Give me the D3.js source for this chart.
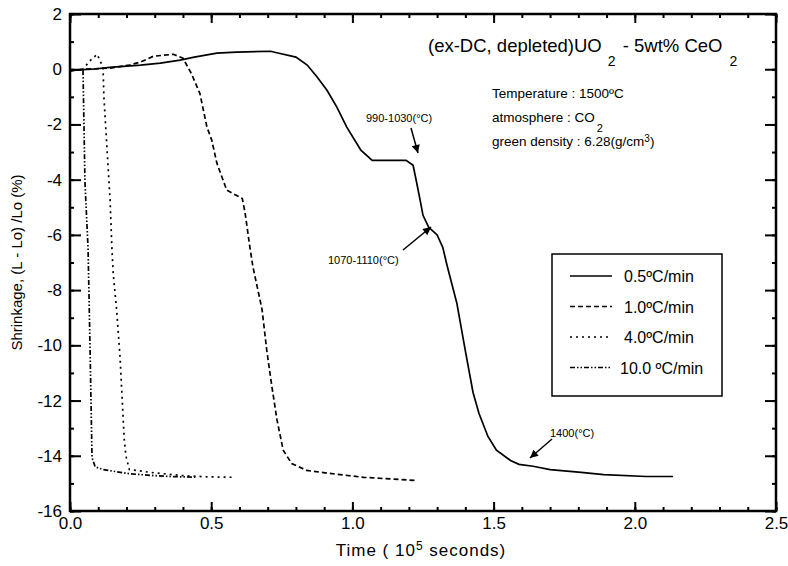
<!DOCTYPE html>
<html>
<head>
<meta charset="utf-8">
<script src="https://cdn.jsdelivr.net/npm/d3@7"></script>
<style>
    body { margin: 0; background: #fff; }
    text { font-family: "Liberation Sans", Arial, sans-serif; fill: #000; }
</style>
</head>
<body>
<div id="chart"></div>
<script>
// Time in 1e5 seconds, shrinkage in %
const rate05T = [0, 0.04, 0.08, 0.14, 0.25, 0.32, 0.39, 0.44, 0.52, 0.59, 0.71, 0.74, 0.80, 0.84, 0.875, 0.91, 0.945, 0.98, 1.015, 1.03, 1.07, 1.19, 1.215, 1.228, 1.24, 1.25, 1.27, 1.30, 1.32, 1.335, 1.37, 1.40, 1.427, 1.448, 1.48, 1.51, 1.56, 1.59, 1.64, 1.70, 1.81, 1.89, 2.04, 2.135];
const rate05V = [-0.05, -0.02, 0.0, 0.07, 0.15, 0.22, 0.33, 0.44, 0.58, 0.62, 0.65, 0.58, 0.44, 0.15, -0.28, -0.76, -1.37, -2.1, -2.68, -2.93, -3.3, -3.3, -3.48, -4.13, -4.75, -5.29, -5.72, -6.0, -6.45, -7.1, -8.48, -10.2, -11.7, -12.46, -13.3, -13.8, -14.17, -14.31, -14.38, -14.5, -14.6, -14.68, -14.75, -14.75];

const rate10T = [0, 0.05, 0.14, 0.21, 0.25, 0.295, 0.366, 0.40, 0.43, 0.46, 0.485, 0.502, 0.52, 0.555, 0.61, 0.62, 0.637, 0.648, 0.655, 0.68, 0.697, 0.715, 0.733, 0.755, 0.785, 0.838, 0.92, 1.04, 1.23];
const rate10V = [-0.05, 0.0, 0.04, 0.15, 0.26, 0.47, 0.54, 0.4, -0.16, -0.88, -2.1, -2.57, -3.4, -4.38, -4.68, -5.2, -6.45, -7.17, -7.5, -8.7, -10.2, -11.5, -12.7, -13.8, -14.28, -14.53, -14.64, -14.78, -14.9];

const rate40T = [0, 0.046, 0.07, 0.096, 0.117, 0.12, 0.13, 0.142, 0.148, 0.153, 0.165, 0.177, 0.185, 0.192, 0.198, 0.21, 0.30, 0.40, 0.48, 0.58];
const rate40V = [-0.05, 0.0, 0.3, 0.54, 0.07, -1.0, -2.7, -4.75, -6.4, -7.4, -8.7, -10.4, -12.0, -13.4, -14.0, -14.5, -14.62, -14.72, -14.76, -14.78];

const rate100T = [0, 0.046, 0.053, 0.064, 0.071, 0.078, 0.089, 0.117, 0.21, 0.30, 0.354, 0.45];
const rate100V = [-0.06, 0.0, -4.1, -6.5, -10.1, -14.06, -14.4, -14.5, -14.65, -14.72, -14.75, -14.78];

const seriesNames = ["0.5ºC/min", "1.0ºC/min", "4.0ºC/min", "10.0 ºC/min"];
const seriesDash  = [null, "5,3", "2,4", "5,2,1.5,2,1.5,2"];

const xTicks = [0, 0.5, 1.0, 1.5, 2.0, 2.5];
const yTicks = [-16, -14, -12, -10, -8, -6, -4, -2, 0, 2];

const zip = (ts, vs) => ts.map((t, i) => ({x: t, y: vs[i]}));
const series = [
    zip(rate05T, rate05V),
    zip(rate10T, rate10V),
    zip(rate40T, rate40V),
    zip(rate100T, rate100V),
];

const width = 788, height = 566;
const margin = {top: 14, right: 12, bottom: 55, left: 70};
const innerW = width - margin.left - margin.right;
const innerH = height - margin.top - margin.bottom;

const xScale = d3.scaleLinear().domain([0, 2.5]).range([0, innerW]);
const yScale = d3.scaleLinear().domain([-16, 2]).range([innerH, 0]);
const X = d => xScale(d.x);
const Y = d => yScale(d.y);
const lineFn = d3.line().x(X).y(Y);

const svg = d3.select("#chart").append("svg")
    .attr("width", width)
    .attr("height", height);

const g = svg.append("g")
    .attr("transform", `translate(${margin.left}, ${margin.top})`);

const minorX = d3.range(0, 26).map(i => i / 10);
const minorY = d3.range(-16, 3);

const styleAxis = a => a.call(s => s.select(".domain").remove())
    .call(s => s.selectAll("line").attr("stroke-width", 2))
    .call(s => s.selectAll("text").style("font-size", "17px"));

// minor ticks on all sides
g.append("g").attr("transform", `translate(0, ${innerH})`)
    .call(d3.axisBottom(xScale).tickValues(minorX).tickSize(-4).tickFormat(""))
    .call(styleAxis);
g.append("g")
    .call(d3.axisTop(xScale).tickValues(minorX).tickSize(-4).tickFormat(""))
    .call(styleAxis);
g.append("g")
    .call(d3.axisLeft(yScale).tickValues(minorY).tickSize(-4).tickFormat(""))
    .call(styleAxis);
g.append("g").attr("transform", `translate(${innerW}, 0)`)
    .call(d3.axisRight(yScale).tickValues(minorY).tickSize(-4).tickFormat(""))
    .call(styleAxis);

// major ticks + labels
g.append("g").attr("transform", `translate(0, ${innerH})`)
    .call(d3.axisBottom(xScale).tickValues(xTicks).tickSize(-9).tickPadding(6).tickFormat(d3.format(".1f")))
    .call(styleAxis);
g.append("g")
    .call(d3.axisTop(xScale).tickValues(xTicks).tickSize(-9).tickFormat(""))
    .call(styleAxis);
g.append("g")
    .call(d3.axisLeft(yScale).tickValues(yTicks).tickSize(-11).tickPadding(8).tickFormat(d3.format("d")))
    .call(styleAxis)
    .call(s => s.selectAll("text").text(d => d < 0 ? "-" + Math.abs(d) : d));
g.append("g").attr("transform", `translate(${innerW}, 0)`)
    .call(d3.axisRight(yScale).tickValues(yTicks).tickSize(-11).tickFormat(""))
    .call(styleAxis);

g.append("rect")
    .attr("width", innerW).attr("height", innerH)
    .attr("fill", "none").attr("stroke", "#000").attr("stroke-width", 2.5);

// curves
g.append("g").selectAll("path")
    .data(series)
    .join("path")
        .attr("d", lineFn)
        .attr("fill", "none")
        .attr("stroke", "#000")
        .attr("stroke-width", 1.7)
        .attr("stroke-dasharray", (d, i) => seriesDash[i]);

// axis titles
svg.append("text")
    .attr("x", 421).attr("y", 556)
    .attr("text-anchor", "middle")
    .style("font-size", "17px").style("letter-spacing", "1px")
    .call(t => t.append("tspan").text("Time ( 10"))
    .call(t => t.append("tspan").attr("dy", -6).style("font-size", "12px").text("5"))
    .call(t => t.append("tspan").attr("dy", 6).text(" seconds)"));

svg.append("text")
    .attr("transform", `translate(22, ${margin.top + innerH / 2}) rotate(-90)`)
    .attr("text-anchor", "middle")
    .style("font-size", "15px")
    .text("Shrinkage, (L - Lo) /Lo (%)");

// composition title
const title = svg.append("text").attr("x", 428).attr("y", 52).style("font-size", "18.5px");
title.append("tspan").text("(ex-DC, depleted)UO");
title.append("tspan").attr("dx", 6).attr("dy", 14).style("font-size", "14px").text("2");
title.append("tspan").attr("dx", 2).attr("dy", -14).text(" - 5wt% CeO");
title.append("tspan").attr("dx", 7).attr("dy", 14).style("font-size", "14px").text("2");

const info = svg.append("g").style("font-size", "13.5px");
info.append("text").attr("x", 492).attr("y", 98).text("Temperature : 1500ºC");
info.append("text").attr("x", 492).attr("y", 122)
    .call(t => t.append("tspan").text("atmosphere : CO"))
    .call(t => t.append("tspan").attr("dx", 2).attr("dy", 10).style("font-size", "11px").text("2"));
info.append("text").attr("x", 492).attr("y", 146)
    .call(t => t.append("tspan").text("green density : 6.28(g/cm"))
    .call(t => t.append("tspan").attr("dy", -4).style("font-size", "10px").text("3"))
    .call(t => t.append("tspan").attr("dy", 4).text(")"));

// legend
const legend = svg.append("g").attr("transform", "translate(552, 254)");
legend.append("rect")
    .attr("width", 170).attr("height", 142)
    .attr("fill", "#fff").attr("stroke", "#000").attr("stroke-width", 1.5);
const rows = legend.selectAll("g.row")
    .data(seriesNames)
    .join("g").attr("class", "row")
    .attr("transform", (d, i) => `translate(0, ${22 + i * 30.5})`);
rows.append("line")
    .attr("x1", 18).attr("x2", 60)
    .attr("stroke", "#000").attr("stroke-width", 1.7)
    .attr("stroke-dasharray", (d, i) => seriesDash[i]);
rows.append("text")
    .attr("x", (d, i) => i === 3 ? 68 : 72).attr("y", 6)
    .style("font-size", "16px")
    .text(d => d);

// annotations with arrows
svg.append("defs").append("marker")
    .attr("id", "arrow").attr("viewBox", "0 0 10 10")
    .attr("refX", 10).attr("refY", 5)
    .attr("markerWidth", 11).attr("markerHeight", 8)
    .attr("markerUnits", "userSpaceOnUse")
    .attr("orient", "auto")
    .append("path").attr("d", "M0,0L10,5L0,10Z").attr("fill", "#000");

const notes = [
    {text: "990-1030(°C)", tx: 366, ty: 122, x1: 411, y1: 128, x2: 418, y2: 153},
    {text: "1070-1110(°C)", tx: 328, ty: 264, x1: 403, y1: 250, x2: 431, y2: 227},
    {text: "1400(°C)", tx: 550, ty: 437, x1: 552, y1: 439, x2: 530, y2: 458},
];
const noteG = svg.append("g");
noteG.selectAll("line")
    .data(notes)
    .join("line")
        .attr("x1", d => d.x1).attr("y1", d => d.y1)
        .attr("x2", d => d.x2).attr("y2", d => d.y2)
        .attr("stroke", "#000").attr("stroke-width", 1.5)
        .attr("marker-end", "url(#arrow)");
noteG.selectAll("text")
    .data(notes)
    .join("text")
        .attr("x", d => d.tx).attr("y", d => d.ty)
        .style("font-size", "11px")
        .text(d => d.text);
</script>
</body>
</html>
